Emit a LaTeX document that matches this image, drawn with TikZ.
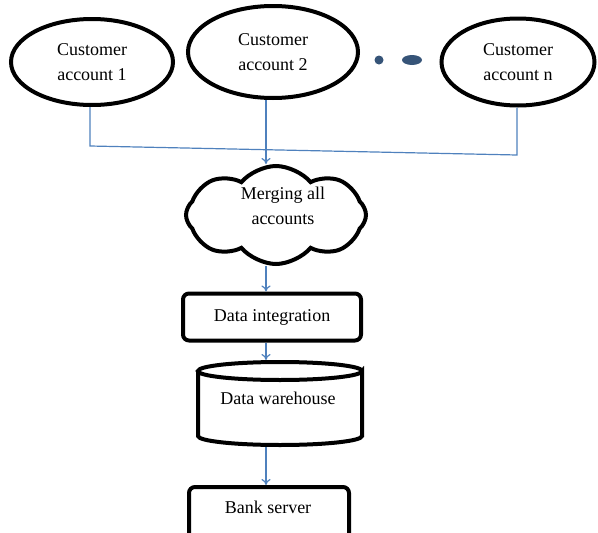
\documentclass[tikz,border=0pt]{standalone}
\usepackage{fontspec}
\setmainfont{Liberation Serif}
\usetikzlibrary{shapes.geometric,shapes.symbols,arrows.meta}

\definecolor{linkblue}{RGB}{79,129,189}
\definecolor{dotblue}{RGB}{54,84,120}

\tikzset{
    acct/.style={ellipse,draw,line width=4pt,inner sep=0pt,align=center},
    box/.style={draw,line width=4pt,rounded corners=6pt,inner sep=0pt},
    link/.style={draw=linkblue,line width=1.2pt},
    flow/.style={link,-{To[length=6pt,width=9pt]}},
}

\begin{document}
\begin{tikzpicture}[x=1pt,y=-1pt,font=\fontsize{18}{25}\selectfont]
    \useasboundingbox (0,0) rectangle (598,533);
    % kundekontoer
    \node[acct,minimum width=162pt,minimum height=86pt] (e1) at (92,62) {Customer\\account 1};
    \node[acct,minimum width=170pt,minimum height=92pt] (e2) at (273,52) {Customer\\account 2};
    \node[acct,minimum width=153pt,minimum height=87pt] (en) at (518,62) {Customer\\account n};
    % prikkene mellom
    \node[circle,fill=dotblue,minimum size=9pt,inner sep=0pt] (d1) at (379,60) {};
    \node[ellipse,fill=dotblue,minimum width=20pt,minimum height=10pt,inner sep=0pt] (d2) at (412,60) {};
    % samling
    \node[cloud,draw,line width=4pt,cloud puffs=8,cloud puff arc=100,aspect=1.9,
        minimum width=180pt,minimum height=98pt,inner sep=0pt] (merge) at (276,215) {};
    \node[align=center] (mtext) at (283,206) {Merging all\\accounts};
    \node[box,minimum width=178pt,minimum height=47pt] (integ) at (272,317) {Data integration};
    % sylinder
    \coordinate (cyl) at (280,404);
    \draw[line width=4pt] (198,371) -- (198,436) arc[start angle=180,end angle=0,x radius=82,y radius=9]
        -- (362,371) arc[start angle=0,end angle=360,x radius=82,y radius=9];
    \node (wh) at (278,398) {Data warehouse};
    \node[box,minimum width=160pt,minimum height=80pt,anchor=north] (bank) at (269,485) {};
    \node (btext) at (268,507) {Bank server};
    % piler
    \coordinate (bl) at (90,146);
    \coordinate (br) at (517,155);
    \coordinate (mid) at (266,150);
    \draw[link] (e1.south -| bl) -- (bl) -- (br) -- (en.south -| br);
    \draw[flow] (mid |- e2.south) -- (mid |- merge.north);
    \draw[flow] (mid |- merge.south) -- (mid |- integ.north);
    \draw[flow] (mid |- integ.south) -- (266,360);
    \draw[flow] (266,447) -- (mid |- bank.north);
\end{tikzpicture}
\end{document}
